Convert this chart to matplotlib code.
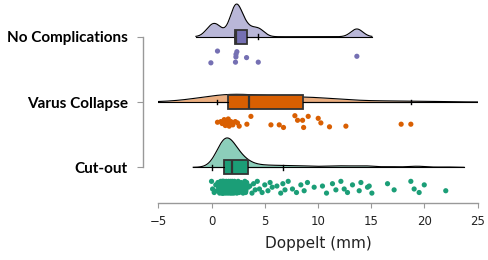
import numpy as np
import matplotlib
matplotlib.use("Agg")
import matplotlib.pyplot as plt

# groups, bottom to top
groups = ["Cut-out", "Varus Collapse", "No Complications"]
colors = ["#1b9e77", "#d95f02", "#7570b3"]

# Doppelt (mm)
no_comp = [-0.06, 0.56, 2.25, 2.29, 2.3, 2.38, 3.29, 4.39, 13.65]
no_comp_jit = [0.40, 0.22, 0.39, 0.31, 0.27, 0.23, 0.32, 0.39, 0.30]

varus = [0.56, 0.88, 1.0, 1.19, 1.3, 1.41, 1.5, 1.57, 1.66, 1.82, 2.0, 2.23,
         2.44, 2.6, 3.32, 3.7, 5.58, 6.36, 6.76, 7.83, 8.08, 8.55, 8.65, 9.08,
         10.02, 10.27, 11.08, 12.62, 17.81, 18.72]
varus_jit = [0.31, 0.30, 0.33, 0.27, 0.36, 0.31, 0.32, 0.26, 0.37, 0.30, 0.35,
             0.30, 0.32, 0.37, 0.34, 0.22, 0.35, 0.35, 0.39, 0.21, 0.28, 0.28,
             0.39, 0.22, 0.25, 0.32, 0.38, 0.37, 0.34, 0.34]

cutout = [0.0, 0.1, 0.25, 0.4, 0.5, 0.6, 0.66, 0.72, 0.76, 0.8, 0.83, 0.86,
          0.88, 0.9, 0.92, 0.93, 0.95, 0.96, 0.97, 0.98, 0.99, 1.0, 1.01, 1.02,
          1.03, 1.03, 1.04, 1.05, 1.05, 1.06, 1.06, 1.07, 1.07, 1.08, 1.08,
          1.09, 1.09, 1.09, 1.1, 1.1, 1.1, 1.1,
          1.12, 1.14, 1.16, 1.18, 1.2, 1.22, 1.24, 1.26, 1.28, 1.3, 1.32, 1.34,
          1.36, 1.38, 1.4, 1.42, 1.44, 1.46, 1.48, 1.5, 1.52, 1.54, 1.56, 1.58,
          1.6, 1.62, 1.64, 1.66, 1.68, 1.7, 1.71, 1.73, 1.75, 1.76, 1.78, 1.79,
          1.8, 1.82, 1.83, 1.85, 1.86, 1.88,
          1.9, 1.91, 1.92, 1.93, 1.95, 1.96, 1.98, 2.0, 2.01, 2.03, 2.05, 2.07,
          2.09, 2.11, 2.13, 2.15, 2.18, 2.2, 2.23, 2.26, 2.29, 2.32, 2.35, 2.38,
          2.42, 2.46, 2.5, 2.55, 2.6, 2.66, 2.72, 2.78, 2.84, 2.9, 2.96, 3.02,
          3.08, 3.13, 3.17, 3.2, 3.22, 3.23,
          3.3, 3.45, 3.6, 3.8, 3.95, 4.1, 4.3, 4.5, 4.75, 5.0, 5.3, 5.5, 5.7,
          6.14,
          6.5, 6.7, 6.9, 7.2, 7.6, 7.98, 8.39, 8.7, 9.01, 9.64, 10.42, 10.8,
          11.36, 11.68, 12.15, 12.46, 12.77, 13.24, 13.87, 14.03, 14.65, 14.81,
          15.06, 16.53, 17.15, 18.72, 19.03, 19.5, 19.98, 22.0]

# repeating vertical spread for the big group
spread = [-1.0, 0.3, 0.9, -0.4, 0.6, -0.8, 0.0, -0.2, 1.0, -0.6, 0.45]
cutout_jit = [0.305 + 0.09 * spread[i % len(spread)] for i in range(len(cutout))]

data = [cutout, varus, no_comp]
jits = [cutout_jit, varus_jit, no_comp_jit]

xmin, xmax = -5, 25


def kde(vals, adjust=1.25, cut=2.5):
    v = np.asarray(vals, float)
    n = len(v)
    q75, q25 = np.percentile(v, [75, 25])
    bw = adjust * 0.9 * min(v.std(ddof=1), (q75 - q25) / 1.34) * n ** -0.2
    lo = max(v.min() - cut * bw, xmin)
    hi = min(v.max() + cut * bw, xmax)
    g = np.linspace(lo, hi, 512)
    d = np.exp(-0.5 * ((g[:, None] - v[None, :]) / bw) ** 2).sum(1)
    d /= n * bw * np.sqrt(2 * np.pi)
    return g, d


fig = plt.figure(figsize=(4.89, 2.6), dpi=100)
ax = fig.add_axes([0.3237, 0.2204, 0.6532, 0.7796])

# spine placement first: moving a spine resets the ticks
for s in ["top", "right"]:
    ax.spines[s].set_visible(False)
ax.spines["left"].set_position(("outward", 11))

dens = [kde(v) for v in data]
scale = 0.5 / dens[2][1].max()

for i, (vals, col) in enumerate(zip(data, colors)):
    g, d = dens[i]
    top = i + d * scale
    ax.fill_between(g, i, top, color=col, alpha=0.5, lw=0, zorder=1)
    ax.plot(g, top, color="black", lw=0.8, zorder=2)
    ax.plot([g[0], g[-1]], [i, i], color="black", lw=0.8, zorder=2)

    ax.scatter(vals, [i - j for j in jits[i]], s=14, color=col,
               edgecolors="none", zorder=4)

    ax.boxplot([vals], positions=[i], orientation="horizontal", widths=0.21,
               patch_artist=True, showfliers=False, capwidths=0.075,
               boxprops=dict(facecolor=col, edgecolor="#333333", lw=1.3),
               medianprops=dict(color="#333333", lw=1.6),
               whiskerprops=dict(color="black", lw=0.8),
               capprops=dict(color="black", lw=1.0),
               zorder=3)

ax.set_xlim(xmin, xmax)
ax.set_ylim(-0.542, 2.562)
ax.set_xticks([-5, 0, 5, 10, 15, 20, 25])
ax.set_yticks([0, 1, 2])
ax.set_yticklabels(groups, fontsize=11, fontweight="bold",
                   family=["Lato", "DejaVu Sans"])
ax.set_xlabel("Doppelt (mm)", fontsize=11, color="#222222", labelpad=6)

ax.spines["left"].set_bounds(0, 2)
ax.spines["bottom"].set_bounds(xmin, xmax)
for s in ["left", "bottom"]:
    ax.spines[s].set_color("#999999")
    ax.spines[s].set_linewidth(1.0)
ax.tick_params(axis="y", length=4.5, pad=6.5, color="#999999", labelcolor="black")
ax.tick_params(axis="x", length=3.5, pad=5, color="#999999", labelsize=8.5,
               labelcolor="#222222")

fig.savefig("out.png", dpi=100)
